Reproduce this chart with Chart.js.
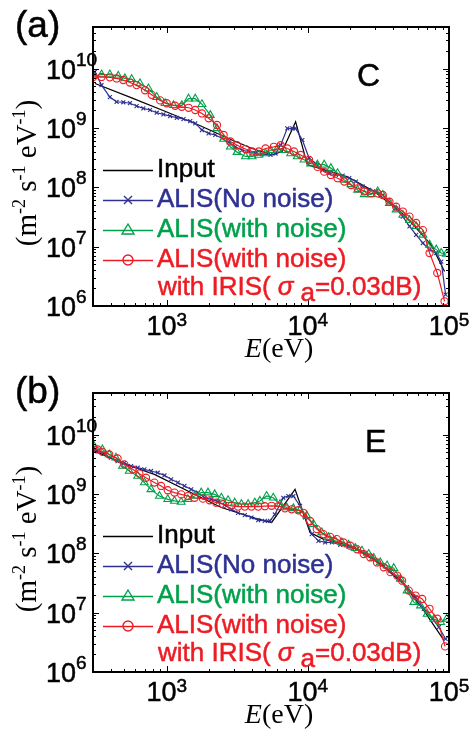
<!DOCTYPE html>
<html>
<head>
<meta charset="utf-8">
<script src="https://cdn.jsdelivr.net/npm/chart.js@4.4.1/dist/chart.umd.min.js"></script>
<style>
  body { margin: 0; background: #fff; }
  .panel { position: absolute; left: 0; width: 472px; height: 366px; }
</style>
</head>
<body>
<div class="panel" style="top:0"><canvas id="chartA" width="472" height="366"></canvas></div>
<div class="panel" style="top:366px"><canvas id="chartB" width="472" height="366"></canvas></div>
<script>
// axis ticks (powers of ten)
const xTickExps = [3, 4, 5];
const yTickExps = [6, 7, 8, 9, 10];
const labels = ["Input", "ALIS(No noise)", "ALIS(with noise)", "ALIS(with noise)"];

// ---- panel (a), case C ----
const inputE_a = [310, 564, 1000, 1680, 2900, 4025, 5585, 6565, 8185, 9910, 19100, 29580, 48350, 74820, 93040];
const inputV_a = [5.6e9, 3.2e9, 1.85e9, 1.12e9, 6.25e8, 4.5e8, 3.5e8, 4.0e8, 1.27e9, 2.4e8, 1.5e8, 8.5e7, 3.4e7, 1.07e7, 3.8e6];

const blueE_a = [309, 345, 395, 441, 492, 548, 611, 682, 761, 849, 947, 1056, 1178, 1314, 1466, 1592, 1775, 1980, 2208, 2462,
  2746, 3064, 3419, 3812, 4251, 4740, 5435, 5900, 6410, 7145, 7760, 8185, 9140, 10190, 11370, 12690, 14160, 15790, 17620, 19630,
  21890, 24420, 27230, 30400, 33920, 37830, 42200, 47070, 52490, 58530, 65290, 72830, 81240, 88100, 94600];
const blueV_a = [8.8e9, 5.25e9, 3.3e9, 2.75e9, 2.7e9, 2.6e9, 2.33e9, 2.13e9, 2.0e9, 1.8e9, 1.69e9, 1.58e9, 1.48e9, 1.41e9, 1.3e9, 1.19e9, 9.2e8, 8.1e8, 7.6e8, 6.7e8,
  5.7e8, 4.8e8, 4.2e8, 4.0e8, 3.7e8, 3.6e8, 3.5e8, 3.7e8, 5.1e8, 9.8e8, 9.8e8, 9.8e8, 6.25e8, 3.1e8, 2.5e8, 1.95e8, 1.72e8, 1.61e8, 1.57e8, 1.42e8,
  1.25e8, 1.03e8, 9.0e7, 8.5e7, 7.4e7, 5.7e7, 4.4e7, 3.2e7, 2.2e7, 1.58e7, 1.15e7, 8.9e6, 7.8e6, 5.6e6, 1.55e6];

const greenE_a = [301, 345, 395, 453, 505, 564, 646, 741, 849, 973, 1115, 1278, 1427, 1592, 1775, 2034, 2268, 2529, 2822, 3148,
  3610, 4025, 4488, 5007, 5435, 6065, 6765, 7550, 8410, 9390, 10470, 11690, 13040, 14550, 16230, 18090, 20180, 22490, 25100, 27990,
  31260, 33920, 37830, 42200, 47070, 52490, 58530, 65290, 72830, 81240, 88100, 95650];
const greenV_a = [7.5e9, 7.9e9, 7.9e9, 7.5e9, 6.8e9, 6.6e9, 5.6e9, 4.6e9, 3.3e9, 2.6e9, 2.4e9, 2.4e9, 3.1e9, 3.1e9, 2.5e9, 1.64e9, 9.8e8, 6.5e8, 4.8e8, 3.9e8,
  3.3e8, 3.3e8, 3.5e8, 3.7e8, 4.2e8, 4.4e8, 4.2e8, 3.7e8, 3.3e8, 2.9e8, 2.5e8, 2.4e8, 2.4e8, 2.1e8, 1.72e8, 1.33e8, 1.12e8, 9.0e7, 7.6e7, 7.6e7,
  8.5e7, 7.4e7, 5.4e7, 4.2e7, 3.4e7, 2.8e7, 2.2e7, 1.58e7, 1.07e7, 8.9e6, 7.8e6, 7.5e6];

const redE_a = [301, 345, 395, 441, 492, 548, 611, 701, 782, 897, 1000, 1146, 1278, 1427, 1592, 1775, 1980, 2268, 2529, 2822,
  3148, 3610, 4025, 4488, 5007, 5740, 6410, 7145, 7965, 8890, 10190, 11690, 13040, 14550, 16230, 18090, 20180, 22490, 25100, 27990,
  31260, 33920, 37830, 42200, 47070, 52490, 58530, 65290, 72830, 82580, 93040];
const redV_a = [7.2e9, 7.2e9, 7.1e9, 6.8e9, 6.4e9, 5.8e9, 5.25e9, 4.3e9, 3.6e9, 2.9e9, 2.6e9, 2.36e9, 2.27e9, 2.18e9, 2.0e9, 1.75e9, 1.45e9, 1.12e9, 7.6e8, 5.9e8,
  5.1e8, 4.4e8, 4.0e8, 4.0e8, 4.5e8, 4.8e8, 5.1e8, 4.5e8, 4.0e8, 3.5e8, 2.9e8, 2.2e8, 1.83e8, 1.61e8, 1.42e8, 1.25e8, 1.09e8, 9.6e7, 8.5e7, 7.9e7,
  7.9e7, 7.4e7, 5.7e7, 4.7e7, 3.9e7, 3.2e7, 2.5e7, 1.9e7, 7.8e6, 3.6e6, 1.2e6];

// ---- panel (b), case E ----
const inputE_b = [300, 473, 817, 1410, 2436, 4207, 5530, 8110, 10360, 12880, 19950, 32630, 47860, 66420, 92130];
const inputV_b = [5.4e9, 3.35e9, 2.13e9, 1.12e9, 5.9e8, 3.9e8, 3.3e8, 1.19e9, 2.24e8, 1.73e8, 1.34e8, 6.6e7, 3.0e7, 1.08e7, 3.4e6];

const blueE_b = [300, 323, 360, 402, 448, 500, 558, 622, 693, 773, 862, 962, 1073, 1197, 1335, 1489, 1663, 1853, 2069, 2307,
  2572, 2871, 3200, 3572, 3981, 4444, 4955, 5383, 5834, 6693, 7266, 7889, 8790, 9550, 10650, 11880, 13250, 14780, 16940, 19410,
  22270, 25530, 29250, 33570, 38460, 44060, 50470, 57940, 66370, 76030, 84850, 94620];
const blueV_b = [5.8e9, 5.25e9, 4.7e9, 4.06e9, 3.56e9, 3.34e9, 2.94e9, 2.76e9, 2.59e9, 2.43e9, 2.27e9, 2.05e9, 1.76e9, 1.55e9, 1.36e9, 1.19e9, 1.05e9, 8.6e8, 8.1e8, 7.4e8,
  6.5e8, 5.5e8, 4.8e8, 4.4e8, 4.0e8, 3.6e8, 3.5e8, 3.5e8, 4.5e8, 8.6e8, 9.2e8, 9.2e8, 6.3e8, 4.0e8, 2.1e8, 1.62e8, 1.52e8, 1.52e8, 1.39e8, 1.29e8,
  1.17e8, 9.9e7, 8.0e7, 6.4e7, 5.0e7, 3.7e7, 2.7e7, 1.82e7, 1.16e7, 7.9e6, 5.7e6, 3.6e6];

const greenE_b = [305, 350, 391, 436, 486, 542, 622, 693, 773, 887, 1016, 1134, 1265, 1410, 1574, 1755, 1958, 2184, 2436, 2717,
  3031, 3381, 3772, 4207, 4570, 5097, 5686, 6343, 7075, 7889, 8790, 9810, 10940, 12540, 13990, 15610, 17410, 19410, 21660, 24160,
  26960, 29250, 32630, 36400, 40600, 45290, 50470, 56330, 62830, 70090, 78180, 87220, 96200];
const greenV_b = [6.4e9, 5.6e9, 4.6e9, 4.06e9, 2.94e9, 2.43e9, 2.0e9, 1.55e9, 1.19e9, 9.2e8, 8.1e8, 7.6e8, 7.3e8, 8.1e8, 9.2e8, 1.05e9, 1.05e9, 9.8e8, 8.6e8, 7.8e8,
  7.1e8, 6.7e8, 6.7e8, 7.1e8, 7.6e8, 9.2e8, 8.6e8, 6.7e8, 5.9e8, 5.7e8, 5.3e8, 4.3e8, 3.1e8, 2.24e8, 1.85e8, 1.62e8, 1.52e8, 1.39e8, 1.22e8, 1.1e8,
  9.7e7, 8.3e7, 7.0e7, 6.2e7, 5.6e7, 3.7e7, 2.35e7, 1.5e7, 1.31e7, 9.5e6, 7.8e6, 6.9e6, 7.8e6];

const redE_b = [300, 323, 350, 391, 448, 500, 573, 639, 712, 817, 912, 1016, 1134, 1265, 1410, 1574, 1803, 2013, 2245, 2506,
  2871, 3200, 3572, 3981, 4444, 4955, 5530, 6170, 6878, 7674, 8555, 9290, 10360, 11560, 12880, 14380, 16040, 17900, 19950, 22270,
  24850, 27690, 30900, 34450, 38460, 42870, 46560, 51880, 57940, 64570, 72780, 82580, 93760];
const redV_b = [5.97e9, 5.6e9, 5.1e9, 4.6e9, 3.95e9, 3.14e9, 2.59e9, 2.19e9, 1.87e9, 1.55e9, 1.36e9, 1.15e9, 1.05e9, 9.8e8, 9.2e8, 8.6e8, 8.3e8, 7.8e8, 7.1e8, 6.7e8,
  6.3e8, 6.1e8, 6.1e8, 6.1e8, 6.1e8, 6.2e8, 6.3e8, 6.2e8, 5.7e8, 5.5e8, 5.3e8, 4.8e8, 3.5e8, 2.55e8, 2.1e8, 1.89e8, 1.73e8, 1.52e8, 1.34e8, 1.17e8,
  9.7e7, 8.5e7, 7.0e7, 5.8e7, 4.8e7, 4.2e7, 3.45e7, 2.35e7, 1.94e7, 1.7e7, 1.16e7, 7.9e6, 2.7e6];

const SANS = '"Liberation Sans", Arial, sans-serif';
const SERIF = '"Liberation Serif", "Times New Roman", serif';
const BLACK = "#000000", BLUE = "#2E3192", GREEN = "#00A14B", RED = "#ED1C24";

function pairs(xs, ys) {
  return xs.map(function (x, i) { return { x: x, y: ys[i] }; });
}

function makeDatasets(iE, iV, bE, bV, gE, gV, rE, rV) {
  return [
    { label: labels[0], data: pairs(iE, iV), borderColor: BLACK, borderWidth: 1.2, pointRadius: 0, order: 4 },
    { label: labels[1], data: pairs(bE, bV), borderColor: BLUE, borderWidth: 1.2, pointStyle: "crossRot",
      pointRadius: 2.8, pointBorderWidth: 1.1, pointBorderColor: BLUE, order: 3 },
    { label: labels[2], data: pairs(gE, gV), borderColor: GREEN, borderWidth: 1.2, pointStyle: "triangle",
      pointRadius: 4.5, pointBorderWidth: 1.1, pointBorderColor: GREEN, pointBackgroundColor: "rgba(0,0,0,0)", order: 2 },
    { label: labels[3], data: pairs(rE, rV), borderColor: RED, borderWidth: 1.2, pointStyle: "circle",
      pointRadius: 3.6, pointBorderWidth: 1.1, pointBorderColor: RED, pointBackgroundColor: "rgba(0,0,0,0)", order: 1 },
  ];
}

// text drawn with a thin outline of its own colour, the scanned figure is heavier than plain Arial
function heavyText(ctx, s, x, y) {
  ctx.fillText(s, x, y);
  ctx.lineWidth = 0.5;
  ctx.strokeStyle = ctx.fillStyle;
  ctx.strokeText(s, x, y);
}

function tenPow(ctx, exp, x, y, centered, supRaise) {
  ctx.font = "27px " + SANS;
  const w1 = ctx.measureText("10").width;
  ctx.font = "19px " + SANS;
  const w2 = ctx.measureText(String(exp)).width;
  const x0 = centered ? x - (w1 + w2) / 2 : x;
  ctx.textAlign = "left";
  ctx.font = "27px " + SANS;
  heavyText(ctx, "10", x0, y);
  ctx.font = "19px " + SANS;
  heavyText(ctx, String(exp), x0 + w1, y - supRaise);
}

function legendMarker(ctx, kind, x, y, color) {
  ctx.strokeStyle = color;
  ctx.lineWidth = 1.4;
  ctx.beginPath();
  if (kind === "x") {
    ctx.moveTo(x - 4, y - 4); ctx.lineTo(x + 4, y + 4);
    ctx.moveTo(x + 4, y - 4); ctx.lineTo(x - 4, y + 4);
  } else if (kind === "tri") {
    ctx.moveTo(x, y - 6); ctx.lineTo(x + 6, y + 4); ctx.lineTo(x - 6, y + 4); ctx.closePath();
  } else if (kind === "circ") {
    ctx.arc(x, y, 5, 0, Math.PI * 2);
  }
  ctx.stroke();
}

const decor = {
  id: "decor",
  afterDraw(chart, args, opts) {
    const ctx = chart.ctx;
    const a = chart.chartArea;
    const sx = chart.scales.x, sy = chart.scales.y;
    ctx.save();
    ctx.fillStyle = "#000";
    ctx.strokeStyle = "#000";

    // inward ticks, all four sides
    ctx.lineWidth = 1;
    ctx.beginPath();
    for (let d = 2; d <= 5; d++) {
      for (let m = 1; m <= 9; m++) {
        const v = m * Math.pow(10, d);
        if (v < sx.min || v > sx.max) continue;
        const px = Math.round(sx.getPixelForValue(v)) + 0.5;
        const len = m === 1 ? 6 : 3;
        ctx.moveTo(px, a.bottom); ctx.lineTo(px, a.bottom - len);
        ctx.moveTo(px, a.top); ctx.lineTo(px, a.top + len);
      }
    }
    for (let d = 6; d <= 10; d++) {
      for (let m = 1; m <= 9; m++) {
        const v = m * Math.pow(10, d);
        if (v < sy.min || v > sy.max) continue;
        const py = Math.round(sy.getPixelForValue(v)) + 0.5;
        const len = m === 1 ? 6 : 3;
        ctx.moveTo(a.left, py); ctx.lineTo(a.left + len, py);
        ctx.moveTo(a.right, py); ctx.lineTo(a.right - len, py);
      }
    }
    ctx.stroke();

    // frame
    ctx.lineWidth = 2;
    ctx.strokeRect(a.left, a.top, a.right - a.left, a.bottom - a.top);

    // tick labels
    ctx.textBaseline = "alphabetic";
    xTickExps.forEach(function (e) {
      tenPow(ctx, e, sx.getPixelForValue(Math.pow(10, e)), a.bottom + 29, true, 9);
    });
    yTickExps.forEach(function (e) {
      tenPow(ctx, e, 46, sy.getPixelForValue(Math.pow(10, e)) + 10, false, 13);
    });

    // x title: E(eV)
    ctx.textAlign = "left";
    ctx.font = "italic 28px " + SERIF;
    const wE = ctx.measureText("E").width;
    ctx.font = "28px " + SERIF;
    const wR = ctx.measureText("(eV)").width;
    const xt = (a.left + a.right) / 2 + 8 - (wE + wR) / 2;
    ctx.font = "italic 28px " + SERIF;
    ctx.fillText("E", xt, a.bottom + 51);
    ctx.font = "28px " + SERIF;
    ctx.fillText("(eV)", xt + wE, a.bottom + 51);

    // y title: (m^-2 s^-1 eV^-1)
    const parts = [["(m", 0], ["-2", 1], [" s", 0], ["-1", 1], [" eV", 0], ["-1", 1], [")", 0]];
    let total = 0;
    parts.forEach(function (p) {
      ctx.font = (p[1] ? "18px " : "29px ") + SERIF;
      total += ctx.measureText(p[0]).width;
    });
    ctx.save();
    ctx.translate(36, a.top + 146);
    ctx.rotate(-Math.PI / 2);
    let cx = -total / 2;
    parts.forEach(function (p) {
      ctx.font = (p[1] ? "18px " : "29px ") + SERIF;
      ctx.fillText(p[0], cx, p[1] ? -11 : 0);
      cx += ctx.measureText(p[0]).width;
    });
    ctx.restore();

    // panel letter and case tag
    ctx.fillStyle = "#000";
    ctx.font = "37px " + SANS;
    heavyText(ctx, opts.letter, 15, a.top + 10);
    ctx.font = "32px " + SANS;
    heavyText(ctx, opts.tag, opts.tagX, a.top + 59);

    // legend
    const rows = [
      { dy: 143, color: BLACK, mark: null },
      { dy: 173, color: BLUE, mark: "x" },
      { dy: 203, color: GREEN, mark: "tri" },
      { dy: 233, color: RED, mark: "circ" },
    ];
    rows.forEach(function (r, i) {
      const y = a.top + r.dy;
      ctx.strokeStyle = r.color;
      ctx.lineWidth = 1.4;
      ctx.beginPath();
      ctx.moveTo(103, y + 0.5); ctx.lineTo(153, y + 0.5);
      ctx.stroke();
      if (r.mark) legendMarker(ctx, r.mark, 128, y, r.color);
      ctx.fillStyle = r.color;
      ctx.font = "26px " + SANS;
      heavyText(ctx, labels[i], 157, y + 7);
    });
    // second line of the red entry
    let lx = 158;
    const ly = a.top + 268;
    ctx.fillStyle = RED;
    ctx.font = "26px " + SANS;
    heavyText(ctx, "with IRIS(", lx, ly);
    lx += ctx.measureText("with IRIS(").width + 7;
    ctx.font = "italic 26px " + SANS;
    heavyText(ctx, "\u03C3", lx, ly);
    lx += ctx.measureText("\u03C3 ").width;
    ctx.font = "26px " + SANS;
    heavyText(ctx, "a", lx, ly + 6);
    lx += ctx.measureText("a").width;
    heavyText(ctx, "=0.03dB)", lx, ly);

    ctx.restore();
  }
};

function makeChart(id, datasets, letter, tag, tagX) {
  return new Chart(document.getElementById(id), {
    type: "line",
    data: { datasets: datasets },
    options: {
      responsive: false,
      animation: false,
      devicePixelRatio: 1,
      layout: { padding: { left: 93, right: 23, top: 27, bottom: 60 } },
      elements: { line: { tension: 0 } },
      scales: {
        x: { type: "logarithmic", min: 300, max: 1e5, display: false },
        y: { type: "logarithmic", min: 1e6, max: 5e10, display: false },
      },
      plugins: {
        legend: { display: false },
        tooltip: { enabled: false },
        decor: { letter: letter, tag: tag, tagX: tagX },
      },
    },
    plugins: [decor],
  });
}

makeChart("chartA", makeDatasets(inputE_a, inputV_a, blueE_a, blueV_a, greenE_a, greenV_a, redE_a, redV_a), "(a)", "C", 357);
makeChart("chartB", makeDatasets(inputE_b, inputV_b, blueE_b, blueV_b, greenE_b, greenV_b, redE_b, redV_b), "(b)", "E", 365);
</script>
</body>
</html>
